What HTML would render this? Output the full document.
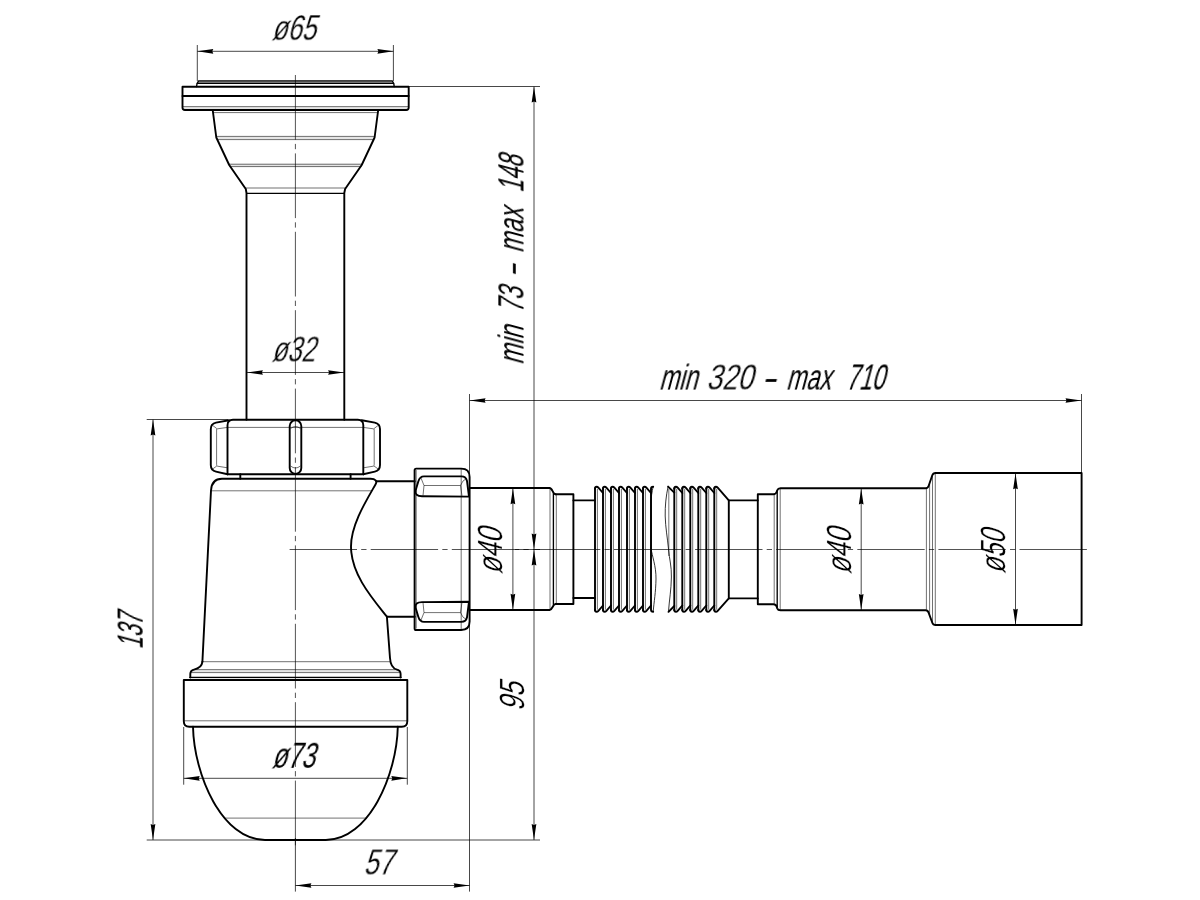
<!DOCTYPE html>
<html lang="en">
<head>
<meta charset="utf-8">
<title>Siphon drawing</title>
<style>
html,body{margin:0;padding:0;background:#fff;}
body{width:1200px;height:900px;overflow:hidden;}
svg{display:block;}
.k{fill:none;stroke:#000;stroke-width:1.9;stroke-linejoin:round;stroke-linecap:round;}
.k2{fill:none;stroke:#000;stroke-width:1.35;stroke-linejoin:round;stroke-linecap:round;}
.n2{fill:none;stroke:#000;stroke-width:1.1;stroke-opacity:0.5;}
.m{fill:none;stroke:#000;stroke-width:1.2;}
.n{fill:none;stroke:#000;stroke-width:0.7;stroke-opacity:0.8;}
.g{fill:none;stroke:#000;stroke-width:2.6;stroke-opacity:0.1;}
.b{fill:none;stroke:#000;stroke-width:0.8;}
.d{fill:none;stroke:#000;stroke-width:0.9;stroke-opacity:0.8;}
.c{fill:none;stroke:#000;stroke-width:0.8;stroke-opacity:0.85;}
.a{fill:#000;stroke:none;}
.t{font-family:"Liberation Sans",sans-serif;fill:#000;}
.tb{stroke:#000;stroke-width:0.2;}
.tw{stroke:#fff;stroke-width:0.25;paint-order:fill stroke;}
</style>
</head>
<body>
<svg width="1200" height="900" viewBox="0 0 1200 900">
<rect x="0" y="0" width="1200" height="900" fill="#fff"/>
<g opacity="0.999" style="will-change:transform">
<text class="t" font-size="35" transform="translate(272.3,40.3) skewX(-15)"><tspan class="tw" x="-1.0" textLength="44.33" lengthAdjust="spacingAndGlyphs">ø65</tspan></text>
<text class="t" font-size="35" transform="translate(272.3,361.7) skewX(-15)"><tspan class="tw" x="-1.0" textLength="43.53" lengthAdjust="spacingAndGlyphs">ø32</tspan></text>
<text class="t" font-size="35" transform="translate(272.5,768) skewX(-15)"><tspan x="-1.0" textLength="43.1" lengthAdjust="spacingAndGlyphs">ø73</tspan></text>
<text class="t" font-size="35" transform="translate(365.3,874.7) skewX(-15)"><tspan class="tw" x="-2.0" textLength="29.44" lengthAdjust="spacingAndGlyphs">57</tspan></text>
<text class="t" font-size="35" transform="translate(660.8,389.7) skewX(-15)"><tspan x="-2.0" textLength="38.35" lengthAdjust="spacingAndGlyphs">min</tspan> <tspan class="tw" x="45.2" textLength="46.65" lengthAdjust="spacingAndGlyphs">320</tspan> <tspan x="100.6" textLength="14.82" lengthAdjust="spacingAndGlyphs">-</tspan> <tspan x="125.1" textLength="44.76" lengthAdjust="spacingAndGlyphs">max</tspan> <tspan x="184.8" textLength="38.59" lengthAdjust="spacingAndGlyphs">710</tspan></text>
<text class="t" font-size="35" transform="translate(523.6,363) rotate(-90) skewX(-15)"><tspan x="-2.0" textLength="38.58" lengthAdjust="spacingAndGlyphs">min</tspan> <tspan x="49.7" textLength="25.74" lengthAdjust="spacingAndGlyphs">73</tspan> <tspan x="85.0" textLength="13.93" lengthAdjust="spacingAndGlyphs">-</tspan> <tspan x="109.7" textLength="44.98" lengthAdjust="spacingAndGlyphs">max</tspan> <tspan class="tb" x="170.3" textLength="36.71" lengthAdjust="spacingAndGlyphs">148</tspan></text>
<text class="t" font-size="35" transform="translate(142.8,647.2) rotate(-90) skewX(-15)"><tspan class="tb" x="-2.0" textLength="35.31" lengthAdjust="spacingAndGlyphs">137</tspan></text>
<text class="t" font-size="35" transform="translate(523.9,708.3) rotate(-90) skewX(-15)"><tspan class="tw" x="-3.0" textLength="28.44" lengthAdjust="spacingAndGlyphs">95</tspan></text>
<text class="t" font-size="35" transform="translate(502.2,573.6) rotate(-90) skewX(-15)"><tspan class="tw" x="-1.0" textLength="45.9" lengthAdjust="spacingAndGlyphs">ø40</tspan></text>
<text class="t" font-size="35" transform="translate(850.7,573.6) rotate(-90) skewX(-15)"><tspan class="tw" x="-1.0" textLength="45.9" lengthAdjust="spacingAndGlyphs">ø40</tspan></text>
<text class="t" font-size="35" transform="translate(1005.2,572.7) rotate(-90) skewX(-15)"><tspan class="tw" x="-1.0" textLength="43.53" lengthAdjust="spacingAndGlyphs">ø50</tspan></text>
</g>
<line class="c" x1="295.4" y1="75" x2="295.4" y2="846" stroke-dasharray="64.7 4.2 5.3 4.2"/>
<line class="d" x1="295.4" y1="838" x2="295.4" y2="891.6"/>
<line class="c" x1="289.6" y1="549.5" x2="1088.5" y2="549.5" stroke-dasharray="67.4 4.2 5.3 4.2"/>
<line class="d" x1="197.3" y1="45" x2="197.3" y2="81"/>
<line class="d" x1="393.4" y1="45" x2="393.4" y2="81"/>
<line class="d" x1="197.3" y1="51.3" x2="393.4" y2="51.3"/>
<path class="a" transform="translate(197.3,51.3) rotate(180)" d="M0,0 L-16,-2.35 L-15,0 L-16,2.35 Z"/>
<path class="a" transform="translate(393.4,51.3) rotate(0)" d="M0,0 L-16,-2.35 L-15,0 L-16,2.35 Z"/>
<line class="d" x1="246.7" y1="372.5" x2="344.3" y2="372.5"/>
<path class="a" transform="translate(246.9,372.5) rotate(180)" d="M0,0 L-16,-2.35 L-15,0 L-16,2.35 Z"/>
<path class="a" transform="translate(344.1,372.5) rotate(0)" d="M0,0 L-16,-2.35 L-15,0 L-16,2.35 Z"/>
<line class="d" x1="183.7" y1="727" x2="183.7" y2="784.7"/>
<line class="d" x1="407.3" y1="727" x2="407.3" y2="784.7"/>
<line class="d" x1="183.7" y1="778.3" x2="407.3" y2="778.3"/>
<path class="a" transform="translate(183.7,778.3) rotate(180)" d="M0,0 L-16,-2.35 L-15,0 L-16,2.35 Z"/>
<path class="a" transform="translate(407.3,778.3) rotate(0)" d="M0,0 L-16,-2.35 L-15,0 L-16,2.35 Z"/>
<line class="d" x1="146.7" y1="419.5" x2="228" y2="419.5"/>
<line class="d" x1="146.7" y1="840" x2="540" y2="840"/>
<line class="d" x1="153.0" y1="419.5" x2="153.0" y2="840"/>
<path class="a" transform="translate(153.0,419.5) rotate(270)" d="M0,0 L-16,-2.35 L-15,0 L-16,2.35 Z"/>
<path class="a" transform="translate(153.0,840) rotate(90)" d="M0,0 L-16,-2.35 L-15,0 L-16,2.35 Z"/>
<line class="d" x1="408.7" y1="86.5" x2="540" y2="86.5"/>
<line class="d" x1="534.0" y1="86.5" x2="534.0" y2="840"/>
<line class="c" x1="515" y1="549.5" x2="540" y2="549.5"/>
<path class="a" transform="translate(534.0,86.5) rotate(270)" d="M0,0 L-16,-2.35 L-15,0 L-16,2.35 Z"/>
<path class="a" transform="translate(534.0,549.5) rotate(90)" d="M0,0 L-16,-2.35 L-15,0 L-16,2.35 Z"/>
<path class="a" transform="translate(534.0,549.5) rotate(270)" d="M0,0 L-16,-2.35 L-15,0 L-16,2.35 Z"/>
<path class="a" transform="translate(534.0,840) rotate(90)" d="M0,0 L-16,-2.35 L-15,0 L-16,2.35 Z"/>
<line class="d" x1="469.5" y1="394" x2="469.5" y2="891.6"/>
<line class="d" x1="295.4" y1="885.5" x2="469.6" y2="885.5"/>
<path class="a" transform="translate(295.4,885.5) rotate(180)" d="M0,0 L-16,-2.35 L-15,0 L-16,2.35 Z"/>
<path class="a" transform="translate(469.6,885.5) rotate(0)" d="M0,0 L-16,-2.35 L-15,0 L-16,2.35 Z"/>
<line class="d" x1="469.6" y1="400.5" x2="1081.5" y2="400.5"/>
<line class="d" x1="1081.5" y1="394" x2="1081.5" y2="473"/>
<path class="a" transform="translate(469.6,400.5) rotate(180)" d="M0,0 L-16,-2.35 L-15,0 L-16,2.35 Z"/>
<path class="a" transform="translate(1081.5,400.5) rotate(0)" d="M0,0 L-16,-2.35 L-15,0 L-16,2.35 Z"/>
<line class="d" x1="512.9" y1="488" x2="512.9" y2="610"/>
<path class="a" transform="translate(512.9,488.2) rotate(270)" d="M0,0 L-16,-2.35 L-15,0 L-16,2.35 Z"/>
<path class="a" transform="translate(512.9,609.8) rotate(90)" d="M0,0 L-16,-2.35 L-15,0 L-16,2.35 Z"/>
<line class="d" x1="861.2" y1="488.3" x2="861.2" y2="610.3"/>
<path class="a" transform="translate(861.2,488.5) rotate(270)" d="M0,0 L-16,-2.35 L-15,0 L-16,2.35 Z"/>
<path class="a" transform="translate(861.2,610.1) rotate(90)" d="M0,0 L-16,-2.35 L-15,0 L-16,2.35 Z"/>
<line class="d" x1="1015.5" y1="473" x2="1015.5" y2="625"/>
<path class="a" transform="translate(1015.5,473.2) rotate(270)" d="M0,0 L-16,-2.35 L-15,0 L-16,2.35 Z"/>
<path class="a" transform="translate(1015.5,624.8) rotate(90)" d="M0,0 L-16,-2.35 L-15,0 L-16,2.35 Z"/>
<line x1="198" y1="82" x2="392.8" y2="82" stroke="#000" stroke-opacity="0.4" stroke-width="2"/>
<path class="k2" d="M196.6,86.7 L197,83.6 L198.6,80.8 L392.2,80.8 L393.8,83.6 L394.2,86.7"/>
<line class="k2" x1="197.3" y1="83.3" x2="393.5" y2="83.3"/>
<path class="k" d="M182.5,86.7 L408.7,86.7 L408.7,107.5 Q408.7,110 406.2,110 L185,110 Q182.5,110 182.5,107.5 Z"/>
<line class="k" x1="182.5" y1="96" x2="408.7" y2="96"/>
<line class="g" x1="183.5" y1="108.2" x2="407.7" y2="108.2"/>
<line class="n" x1="183" y1="106.6" x2="408.2" y2="106.6"/>
<line class="n" x1="213" y1="112.6" x2="378" y2="112.6"/>
<path class="k" d="M212.7,110 L216.3,137.5 L229.2,165 L245.8,189 L246.5,193 L246.5,419.7"/>
<path class="k" d="M378.2,110 L374.6,137.5 L361.7,165 L345.1,189 L344.3,193 L344.3,419.7"/>
<line class="g" x1="216.5" y1="138" x2="374.4" y2="138"/>
<line class="n" x1="216.3" y1="136.4" x2="374.6" y2="136.4"/>
<line class="n" x1="216.9" y1="139.6" x2="374" y2="139.6"/>
<line class="g" x1="229.2" y1="165.4" x2="361.8" y2="165.4"/>
<line class="n" x1="229" y1="164.2" x2="362" y2="164.2"/>
<line class="n" x1="229.6" y1="166.6" x2="361.4" y2="166.6"/>
<line class="n" x1="245.4" y1="188" x2="345.5" y2="188"/>
<line class="m" x1="246.7" y1="193.3" x2="344.3" y2="193.3"/>
<path class="k" d="M227.5,474.2 L227.5,425.2 Q227.5,419.7 233,419.7 L357.8,419.7 Q363.3,419.7 363.3,425.2 L363.3,474.2"/>
<line class="k" x1="227.5" y1="474.2" x2="363.3" y2="474.2"/>
<path class="k" d="M229,420.2 L216,422.6 Q210.8,423.6 210.8,429 L210.8,465 Q210.8,470.4 216,471.6 L227.5,474.2"/>
<path class="k" d="M361.8,420.2 L374.8,422.6 Q380,423.6 380,429 L380,465 Q380,470.4 374.8,471.6 L363.3,474.2"/>
<line class="n" x1="227.5" y1="427.4" x2="363.3" y2="427.4"/>
<path class="n" d="M227.5,427.4 L217.5,428.8 Q216.6,428.5 216.6,430 L216.6,464.5 Q216.6,466 217.5,466.2 L227.5,467.8"/>
<path class="n" d="M363.3,427.4 L373.3,428.8 Q374.2,428.5 374.2,430 L374.2,464.5 Q374.2,466 373.3,466.2 L363.3,467.8"/>
<line class="n" x1="211.5" y1="424.5" x2="216.8" y2="428.6"/>
<line class="n" x1="211.5" y1="469.8" x2="216.8" y2="466"/>
<line class="n" x1="379.3" y1="424.5" x2="374" y2="428.6"/>
<line class="n" x1="379.3" y1="469.8" x2="374" y2="466"/>
<rect class="k" x="289.7" y="420.3" width="11.6" height="53.6" rx="5.8" ry="5.8"/>
<path class="n" d="M290.6,428.5 Q295.5,424.5 300.4,428.5"/>
<path class="n" d="M290.6,466 Q295.5,470 300.4,466"/>
<line class="k" x1="240.3" y1="474.2" x2="240.3" y2="478.7"/>
<line class="k" x1="350.6" y1="474.2" x2="350.6" y2="478.7"/>
<path class="k" d="M202.4,661.7 L211,490.5 Q211.6,478.7 222,478.7 L370.5,478.7 C375.5,478.7 377.5,481 375.6,484.3 C366,501 351,525 351,546.5 C351,574 372,598 386.9,616.7 L390,658 Q390.6,668 397,669.6 Q400.6,670.5 400.6,674 L400.6,677.5"/>
<path class="k" d="M202.4,661.7 Q201.8,668 194,669.6 Q190.3,670.5 190.3,674 L190.3,677.5"/>
<line class="k" x1="376.3" y1="481.3" x2="414.7" y2="481.3"/>
<line class="k" x1="386.9" y1="616.7" x2="414.7" y2="616.7"/>
<line class="n" x1="211.3" y1="490.8" x2="371.8" y2="490.8"/>
<line class="n" x1="202.4" y1="661.7" x2="390.3" y2="661.7"/>
<line class="g" x1="191.5" y1="671.2" x2="399.5" y2="671.2"/>
<line class="n" x1="192.5" y1="669.6" x2="398.5" y2="669.6"/>
<line class="n" x1="190.5" y1="672.6" x2="400.4" y2="672.6"/>
<line class="g" x1="190.5" y1="678.6" x2="400.5" y2="678.6"/>
<line class="k2" x1="189.8" y1="677.3" x2="401.1" y2="677.3"/>
<path class="k" d="M183.8,680 L407.3,680 L407.3,721.2 Q407.3,726.7 401.8,726.7 L189.3,726.7 Q183.8,726.7 183.8,721.2 Z"/>
<line class="n" x1="184.2" y1="720.8" x2="407" y2="720.8"/>
<path class="k" d="M193,726.7 C194,775 222,840 265,840 L325.8,840 C368.8,840 396.8,775 397.8,726.7"/>
<line class="n" x1="224" y1="818.1" x2="366.8" y2="818.1"/>
<path class="k" d="M416.2,468.6 L461.2,468.6 Q469.6,468.6 469.6,477 L469.6,621.6 Q469.6,630 461.2,630 L416.2,630 Q414.6,630 414.6,628.4 L414.6,470.2 Q414.6,468.6 416.2,468.6 Z"/>
<line class="n2" x1="416.2" y1="470" x2="416.2" y2="628.6"/>
<line class="n2" x1="461.2" y1="469" x2="461.2" y2="629.5"/>
<path class="k" d="M424,476.4 L461.5,476.4 Q466,476.4 467,481 L469,496.6 L422,496.2 Q414.6,496.2 415.6,490.5 L418.3,481.5 Q419.8,476.4 424,476.4 Z"/>
<path class="k" d="M424,621.9 L461.5,621.9 Q466,621.9 467,617.3 L469,601.7 L422,602.1 Q414.6,602.1 415.6,607.8 L418.3,616.8 Q419.8,621.9 424,621.9 Z"/>
<path class="n" d="M421,478 L424,485.5 L423,495.5 M424,485.5 L460.5,485.5 L462,495.8 M460.5,485.5 Q462.5,480 466.5,478.5"/>
<path class="n" d="M421,620.1 L424,612.6 L423,602.6 M424,612.6 L460.5,612.6 L462,602.3 M460.5,612.6 Q462.5,618.1 466.5,619.6"/>
<path class="k" d="M469.7,488 L549.6,488 C552.6,488 552.6,494.3 555.6,494.3 M469.7,610 L549.6,610 C552.6,610 552.6,604 555.6,604"/>
<path class="k2" d="M553.4,492.5 L553.4,605.5"/>
<line class="n2" x1="550" y1="488.5" x2="550" y2="609.5"/>
<path class="k" d="M555.6,494.3 L573.4,494.3 L573.4,604 L555.6,604"/>
<line class="n" x1="556.3" y1="494.5" x2="556.3" y2="604"/>
<line class="k" x1="573.4" y1="500.4" x2="594.8" y2="500.4"/>
<line class="k" x1="573.4" y1="598" x2="594.8" y2="598"/>
<path class="k" d="M595,488.3 L595,610.2"/>
<path class="k" d="M595,488.8 Q595,486.8 596.6,486.8 Q597.6,486.8 598.4,487.7 L603.0,493.0"/>
<path class="k" d="M595,609.7 Q595,611.7 596.6,611.7 Q597.6,611.7 598.4,610.8000000000001 L603.0,605.5"/>
<line class="n" x1="597.4" y1="488.8" x2="597.4" y2="609.7"/>
<path class="k" d="M603,488.3 L603,610.2"/>
<path class="k" d="M603,488.8 Q603,486.8 604.6,486.8 Q605.6,486.8 606.4,487.7 L611.0,493.0"/>
<path class="k" d="M603,609.7 Q603,611.7 604.6,611.7 Q605.6,611.7 606.4,610.8000000000001 L611.0,605.5"/>
<line class="n" x1="605.4" y1="488.8" x2="605.4" y2="609.7"/>
<path class="k" d="M611,488.3 L611,610.2"/>
<path class="k" d="M611,488.8 Q611,486.8 612.6,486.8 Q613.6,486.8 614.4,487.7 L619.0,493.0"/>
<path class="k" d="M611,609.7 Q611,611.7 612.6,611.7 Q613.6,611.7 614.4,610.8000000000001 L619.0,605.5"/>
<line class="n" x1="613.4" y1="488.8" x2="613.4" y2="609.7"/>
<path class="k" d="M619,488.3 L619,610.2"/>
<path class="k" d="M619,488.8 Q619,486.8 620.6,486.8 Q621.6,486.8 622.4,487.7 L627.0,493.0"/>
<path class="k" d="M619,609.7 Q619,611.7 620.6,611.7 Q621.6,611.7 622.4,610.8000000000001 L627.0,605.5"/>
<line class="n" x1="621.4" y1="488.8" x2="621.4" y2="609.7"/>
<path class="k" d="M627,488.3 L627,610.2"/>
<path class="k" d="M627,488.8 Q627,486.8 628.6,486.8 Q629.6,486.8 630.4,487.7 L635.0,493.0"/>
<path class="k" d="M627,609.7 Q627,611.7 628.6,611.7 Q629.6,611.7 630.4,610.8000000000001 L635.0,605.5"/>
<line class="n" x1="629.4" y1="488.8" x2="629.4" y2="609.7"/>
<path class="k" d="M635,488.3 L635,610.2"/>
<path class="k" d="M635,488.8 Q635,486.8 636.6,486.8 Q637.6,486.8 638.4,487.7 L643.0,493.0"/>
<path class="k" d="M635,609.7 Q635,611.7 636.6,611.7 Q637.6,611.7 638.4,610.8000000000001 L643.0,605.5"/>
<line class="n" x1="637.4" y1="488.8" x2="637.4" y2="609.7"/>
<path class="k" d="M643,488.3 L643,610.2"/>
<path class="k" d="M643,488.8 Q643,486.8 644.6,486.8 Q645.6,486.8 646.4,487.7 L651.0,493.0"/>
<path class="k" d="M643,609.7 Q643,611.7 644.6,611.7 Q645.6,611.7 646.4,610.8000000000001 L651.0,605.5"/>
<line class="n" x1="645.4" y1="488.8" x2="645.4" y2="609.7"/>
<path class="k" d="M653.2,486.8 Q651,486.8 651,488.8 L651,609.7 Q651,611.7 653.2,611.7"/>
<path class="b" d="M653.2,486.4 C652,492 651,497 651,503 L651,548 C652,556 656.2,566 656,579 C655.8,592 654,602 653.2,611.6"/>
<path class="b" d="M668.1,486.6 C666,496 665,506 665.2,516 C665.5,528 667.5,538 668.5,549 C669.5,560 671.6,566 671.4,577 C671.2,590 669.3,600 668.5,611.4"/>
<line class="n" x1="668.8" y1="489" x2="668.8" y2="556"/>
<path class="k" d="M668.1,486.6 L674.3,492.6"/>
<path class="k" d="M668.5,611.8000000000001 L674.3,606.0"/>
<path class="k" d="M674.3,488.3 L674.3,610.2"/>
<path class="k" d="M674.3,488.8 Q674.3,486.8 675.9,486.8 Q676.9,486.8 677.6999999999999,487.7 L682.3,493.0"/>
<path class="k" d="M674.3,609.7 Q674.3,611.7 675.9,611.7 Q676.9,611.7 677.6999999999999,610.8000000000001 L682.3,605.5"/>
<line class="n" x1="676.6999999999999" y1="488.8" x2="676.6999999999999" y2="609.7"/>
<path class="k" d="M682.3,488.3 L682.3,610.2"/>
<path class="k" d="M682.3,488.8 Q682.3,486.8 683.9,486.8 Q684.9,486.8 685.6999999999999,487.7 L690.3,493.0"/>
<path class="k" d="M682.3,609.7 Q682.3,611.7 683.9,611.7 Q684.9,611.7 685.6999999999999,610.8000000000001 L690.3,605.5"/>
<line class="n" x1="684.6999999999999" y1="488.8" x2="684.6999999999999" y2="609.7"/>
<path class="k" d="M690.3,488.3 L690.3,610.2"/>
<path class="k" d="M690.3,488.8 Q690.3,486.8 691.9,486.8 Q692.9,486.8 693.6999999999999,487.7 L698.3,493.0"/>
<path class="k" d="M690.3,609.7 Q690.3,611.7 691.9,611.7 Q692.9,611.7 693.6999999999999,610.8000000000001 L698.3,605.5"/>
<line class="n" x1="692.6999999999999" y1="488.8" x2="692.6999999999999" y2="609.7"/>
<path class="k" d="M698.3,488.3 L698.3,610.2"/>
<path class="k" d="M698.3,488.8 Q698.3,486.8 699.9,486.8 Q700.9,486.8 701.6999999999999,487.7 L706.3,493.0"/>
<path class="k" d="M698.3,609.7 Q698.3,611.7 699.9,611.7 Q700.9,611.7 701.6999999999999,610.8000000000001 L706.3,605.5"/>
<line class="n" x1="700.6999999999999" y1="488.8" x2="700.6999999999999" y2="609.7"/>
<path class="k" d="M706.3,488.3 L706.3,610.2"/>
<path class="k" d="M706.3,488.8 Q706.3,486.8 707.9,486.8 Q708.9,486.8 709.6999999999999,487.7 L714.3,493.0"/>
<path class="k" d="M706.3,609.7 Q706.3,611.7 707.9,611.7 Q708.9,611.7 709.6999999999999,610.8000000000001 L714.3,605.5"/>
<line class="n" x1="708.6999999999999" y1="488.8" x2="708.6999999999999" y2="609.7"/>
<path class="k" d="M714.3,488.3 L714.3,610.2"/>
<path class="k" d="M714.3,488.8 Q714.3,486.8 715.9,486.8 Q716.9,486.8 717.6999999999999,487.7 L728.8,500.4 L728.8,598.4 L717.6999999999999,610.8000000000001 Q716.9,611.7 715.9,611.7 Q714.3,611.7 714.3,609.7"/>
<line class="n" x1="716.6999999999999" y1="488.8" x2="716.6999999999999" y2="609.7"/>
<line class="k" x1="728.8" y1="500.4" x2="757.8" y2="500.4"/>
<line class="k" x1="728.8" y1="598.4" x2="757.8" y2="598.4"/>
<path class="k" d="M757.8,494.2 L773.5,494.2 Q775.8,494.2 776.6,492 L777.2,490.3 Q778,488.3 780.5,488.3 L925.6,488.3 Q927.8,488.3 928.6,486 L932.3,475.3 Q933.1,473 935.5,473 L1081.6,473 L1081.6,625 L935.5,625 Q933.1,625 932.3,622.7 L928.6,612.6 Q927.8,610.3 925.6,610.3 L780.5,610.3 Q778,610.3 777.2,608.3 L776.6,606.4 Q775.8,604.2 773.5,604.2 L757.8,604.2 Z"/>
<line class="n" x1="774.2" y1="494.6" x2="774.2" y2="603.8"/>
<line class="k2" x1="777.2" y1="491.5" x2="777.2" y2="607"/>
<line class="n" x1="780.2" y1="488.8" x2="780.2" y2="609.8"/>
<line class="n" x1="926.4" y1="488.8" x2="926.4" y2="609.8"/>
<line class="n" x1="929.6" y1="484" x2="929.6" y2="614.5"/>
<line class="n" x1="932.5" y1="475.5" x2="932.5" y2="622.5"/>
<line class="n" x1="935.3" y1="473.5" x2="935.3" y2="624.5"/>
</svg>
</body>
</html>
